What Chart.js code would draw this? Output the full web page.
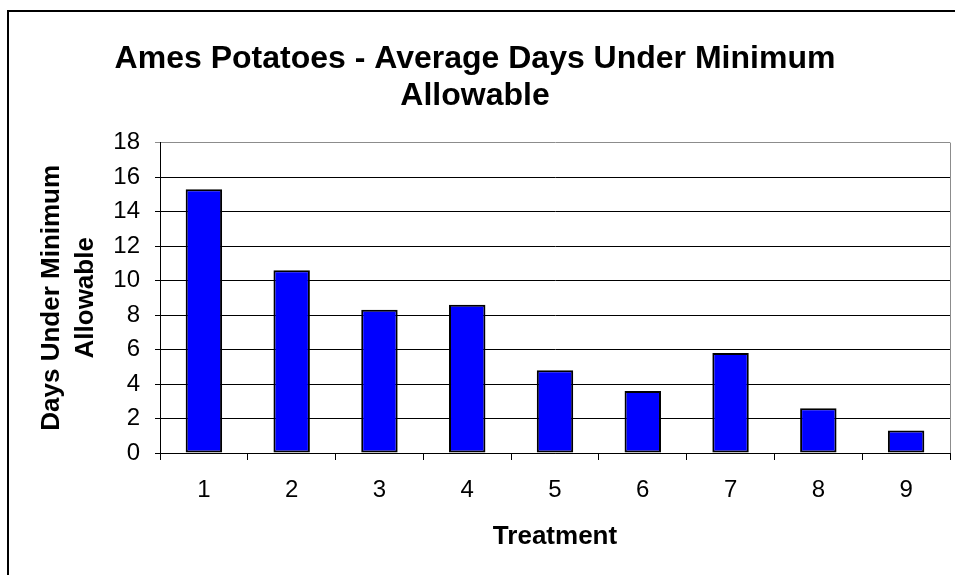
<!DOCTYPE html>
<html>
<head>
<meta charset="utf-8">
<script src="https://cdn.jsdelivr.net/npm/chart.js@4"></script>
<style>
  html, body { margin: 0; padding: 0; background: #fff; }
  #wrap { width: 955px; height: 575px; }
</style>
</head>
<body>
<div id="wrap"><canvas id="chart" width="955" height="575"></canvas></div>
<script>
// data
const treatments = ['1', '2', '3', '4', '5', '6', '7', '8', '9'];
const daysUnder = [15.3, 10.6, 8.3, 8.6, 4.8, 3.6, 5.8, 2.6, 1.3];
const yTicks = [0, 2, 4, 6, 8, 10, 12, 14, 16, 18];

const FONT = "'Liberation Sans', Arial, sans-serif";

// white page + the outer frame, plus grey right edge of plot
const framePlugin = {
    id: 'frame',
    beforeDraw(c) {
        const ctx = c.ctx;
        ctx.save();
        ctx.fillStyle = '#fff';
        ctx.fillRect(0, 0, c.width, c.height);
        ctx.fillStyle = '#000';
        ctx.fillRect(7, 10, 2, 600);
        ctx.fillRect(7, 10, 960, 2);
        ctx.restore();
    },
    afterDraw(c) {
        const a = c.chartArea;
        const ctx = c.ctx;
        ctx.save();
        ctx.strokeStyle = '#8c8c8c';
        ctx.lineWidth = 1;
        ctx.beginPath();
        ctx.moveTo(Math.round(a.right) + 0.5, a.top);
        ctx.lineTo(Math.round(a.right) + 0.5, a.bottom);
        ctx.stroke();
        ctx.restore();
    }
};

new Chart(document.getElementById('chart'), {
    type: 'bar',
    data: {
        labels: treatments,
        datasets: [{
            data: daysUnder,
            backgroundColor: '#0000ff',
            borderColor: '#000',
            borderWidth: 2,
            borderSkipped: false,
            categoryPercentage: 1,
            barPercentage: 0.415
        }]
    },
    options: {
        responsive: false,
        animation: false,
        layout: { padding: { left: 0, right: 5, top: 0, bottom: 0 } },
        plugins: {
            legend: { display: false },
            tooltip: { enabled: false },
            title: {
                display: true,
                text: ['Ames Potatoes - Average Days Under Minimum', 'Allowable'],
                color: '#000',
                font: { family: FONT, size: 32, weight: 'bold', lineHeight: 1.15 },
                padding: { top: 41, bottom: 28 }
            }
        },
        scales: {
            x: {
                afterFit(s) { s.height = 122; },
                grid: {
                    display: true,
                    drawOnChartArea: false,
                    drawTicks: true,
                    tickLength: 7,
                    color: '#000'
                },
                border: { color: '#000', width: 1 },
                ticks: {
                    color: '#000',
                    padding: 16,
                    font: { family: FONT, size: 24 }
                },
                title: {
                    display: true,
                    text: 'Treatment',
                    color: '#000',
                    font: { family: FONT, size: 26, weight: 'bold' },
                    padding: { top: 0, bottom: 23 }
                }
            },
            y: {
                min: 0,
                max: 18,
                afterFit(s) { s.width = 160; },
                afterBuildTicks(s) { s.ticks = yTicks.map(v => ({ value: v })); },
                grid: {
                    color: ctx => (ctx.tick && ctx.tick.value === 18 ? '#8c8c8c' : '#000'),
                    tickLength: 5,
                    drawTicks: true
                },
                border: { color: '#000', width: 1 },
                ticks: {
                    color: '#000',
                    padding: 15,
                    font: { family: FONT, size: 24 }
                },
                title: {
                    display: true,
                    text: ['Days Under Minimum', 'Allowable'],
                    color: '#000',
                    font: { family: FONT, size: 26, weight: 'bold', lineHeight: 1.3 },
                    padding: { top: 35, bottom: 0 }
                }
            }
        }
    },
    plugins: [framePlugin]
});
</script>
</body>
</html>
